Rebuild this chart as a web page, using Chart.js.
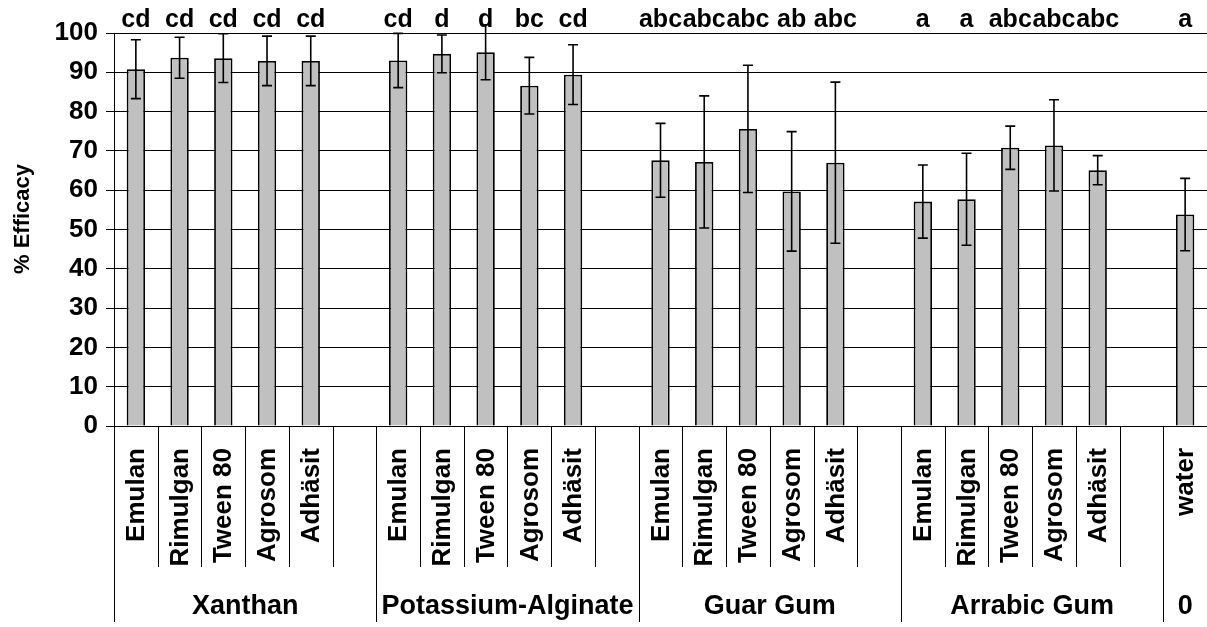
<!DOCTYPE html>
<html>
<head>
<meta charset="utf-8">
<script src="https://cdn.jsdelivr.net/npm/chart.js@4/dist/chart.umd.min.js"></script>
<style>
  body { margin: 0; background: #fff; }
  #wrap { width: 1207px; height: 627px; }
</style>
</head>
<body>
<div id="wrap"><canvas id="efficacyChart"></canvas></div>
<script>
// groups and treatments
const groupNames = ['Xanthan', 'Potassium-Alginate', 'Guar Gum', 'Arrabic Gum', '0'];
const treatments = ['Emulan', 'Rimulgan', 'Tween 80', 'Agrosom', 'Adhäsit'];
const controlLabel = 'water';
const yTitle = '% Efficacy';

// mean % efficacy, one array per thickener
const xanthan = [90.8, 93.7, 93.6, 92.9, 92.9];
const alginate = [93.0, 94.7, 95.1, 86.6, 89.4];
const guarGum = [67.6, 67.2, 75.6, 59.7, 67.0];
const arabicGum = [57.1, 57.7, 70.8, 71.4, 65.1];
const water = [53.8];

// error bar half-length
const xanthanErr = [7.5, 5.2, 6.2, 6.3, 6.3];
const alginateErr = [6.9, 4.8, 7.0, 7.2, 7.6];
const guarGumErr = [9.4, 16.8, 16.2, 15.2, 20.5];
const arabicGumErr = [9.3, 11.7, 5.5, 11.6, 3.7];
const waterErr = [9.2];

// significance letters
const xanthanLetters = ['cd', 'cd', 'cd', 'cd', 'cd'];
const alginateLetters = ['cd', 'd', 'd', 'bc', 'cd'];
const guarGumLetters = ['abc', 'abc', 'abc', 'ab', 'abc'];
const arabicGumLetters = ['a', 'a', 'abc', 'abc', 'abc'];
const waterLetters = ['a'];

const yTicks = [0, 10, 20, 30, 40, 50, 60, 70, 80, 90, 100];

// build the slot list: 5 bars + an empty slot per thickener, then water
const groupValues = [xanthan, alginate, guarGum, arabicGum, water];
const groupErrors = [xanthanErr, alginateErr, guarGumErr, arabicGumErr, waterErr];
const groupLetters = [xanthanLetters, alginateLetters, guarGumLetters, arabicGumLetters, waterLetters];

const slotLabels = [], slotValues = [], slotErrors = [], slotLetters = [], groupSpans = [];
groupNames.forEach((name, g) => {
  const start = slotLabels.length;
  groupValues[g].forEach((v, i) => {
    slotLabels.push(g < 4 ? treatments[i] : controlLabel);
    slotValues.push(v);
    slotErrors.push(groupErrors[g][i]);
    slotLetters.push(groupLetters[g][i]);
  });
  if (g < 4) {
    slotLabels.push('');
    slotValues.push(null);
    slotErrors.push(null);
    slotLetters.push('');
  }
  groupSpans.push({ name: name, start: start, end: slotLabels.length - 1 });
});

const FONT = '"Liberation Sans", Arial, sans-serif';

const extrasPlugin = {
  id: 'extras',
  afterDatasetsDraw(chart) {
    const ctx = chart.ctx;
    const x = chart.scales.x, y = chart.scales.y;
    ctx.save();
    // error bars
    ctx.strokeStyle = '#000';
    ctx.lineWidth = 1.6;
    slotValues.forEach((v, i) => {
      if (v === null) return;
      const px = x.getPixelForValue(i);
      const top = y.getPixelForValue(v + slotErrors[i]);
      const bot = y.getPixelForValue(v - slotErrors[i]);
      ctx.beginPath();
      ctx.moveTo(px, top); ctx.lineTo(px, bot);
      ctx.moveTo(px - 5, top); ctx.lineTo(px + 5, top);
      ctx.moveTo(px - 5, bot); ctx.lineTo(px + 5, bot);
      ctx.stroke();
    });
    // letters above plot
    ctx.fillStyle = '#000';
    ctx.font = 'bold 25px ' + FONT;
    ctx.textAlign = 'center';
    ctx.textBaseline = 'alphabetic';
    slotLetters.forEach((t, i) => {
      if (t) ctx.fillText(t, x.getPixelForValue(i), 27);
    });
    ctx.restore();
  },
  afterDraw(chart) {
    const ctx = chart.ctx;
    const x = chart.scales.x;
    const area = chart.chartArea;
    const base = area.bottom;
    const edge = i => i === 0 ? area.left : (x.getPixelForValue(i - 1) + x.getPixelForValue(i)) / 2;
    ctx.save();
    ctx.strokeStyle = '#000';
    ctx.lineWidth = 1;
    // inner separators
    slotLabels.forEach((l, i) => {
      if (i === 0) return;
      const ex = Math.round(edge(i)) + 0.5;
      ctx.beginPath();
      ctx.moveTo(ex, base);
      ctx.lineTo(ex, base + 141);
      ctx.stroke();
    });
    // group separators
    groupSpans.forEach(s => {
      const ex = Math.round(edge(s.start)) + 0.5;
      ctx.beginPath();
      ctx.moveTo(ex, base);
      ctx.lineTo(ex, base + 196);
      ctx.stroke();
    });
    // rotated treatment labels
    ctx.fillStyle = '#000';
    ctx.font = 'bold 26px ' + FONT;
    ctx.textAlign = 'right';
    ctx.textBaseline = 'middle';
    slotLabels.forEach((l, i) => {
      if (!l) return;
      ctx.save();
      ctx.translate(x.getPixelForValue(i) + 1, base + 22);
      ctx.rotate(-Math.PI / 2);
      ctx.fillText(l, 0, 0);
      ctx.restore();
    });
    // group labels
    ctx.font = 'bold 27px ' + FONT;
    ctx.textAlign = 'center';
    groupSpans.forEach(s => {
      const cx = (edge(s.start) + (s.end === slotLabels.length - 1 ? area.right : edge(s.end + 1))) / 2;
      ctx.fillText(s.name, cx, base + 181);
    });
    // y axis title
    ctx.font = 'bold 22px ' + FONT;
    ctx.save();
    ctx.translate(23, 219);
    ctx.rotate(-Math.PI / 2);
    ctx.fillText(yTitle, 0, 0);
    ctx.restore();
    ctx.restore();
  }
};

const ctx = document.getElementById('efficacyChart').getContext('2d');
const efficacyChart = new Chart(ctx, {
  type: 'bar',
  data: {
    labels: slotLabels,
    datasets: [{
      data: slotValues,
      backgroundColor: '#c0c0c0',
      borderColor: '#000',
      borderWidth: 1.8,
      barPercentage: 0.42,
      categoryPercentage: 1
    }]
  },
  options: {
    responsive: true,
    maintainAspectRatio: false,
    animation: false,
    layout: { padding: { top: 33, left: 0, right: 0, bottom: 0 } },
    plugins: {
      legend: { display: false },
      tooltip: { enabled: false }
    },
    scales: {
      x: {
        ticks: { display: false },
        grid: { display: false },
        border: { display: true, color: '#000', width: 1 },
        afterFit: scale => { scale.height = 201; }
      },
      y: {
        min: 0,
        max: 100,
        afterBuildTicks: scale => { scale.ticks = yTicks.map(v => ({ value: v })); },
        ticks: {
          color: '#000',
          padding: 8,
          font: { family: FONT, size: 26, weight: 'bold' }
        },
        grid: { color: '#000', lineWidth: 1, tickLength: 8 },
        border: { display: true, color: '#000', width: 1 },
        afterFit: scale => { scale.width = 114; }
      }
    }
  },
  plugins: [extrasPlugin]
});
</script>
</body>
</html>
